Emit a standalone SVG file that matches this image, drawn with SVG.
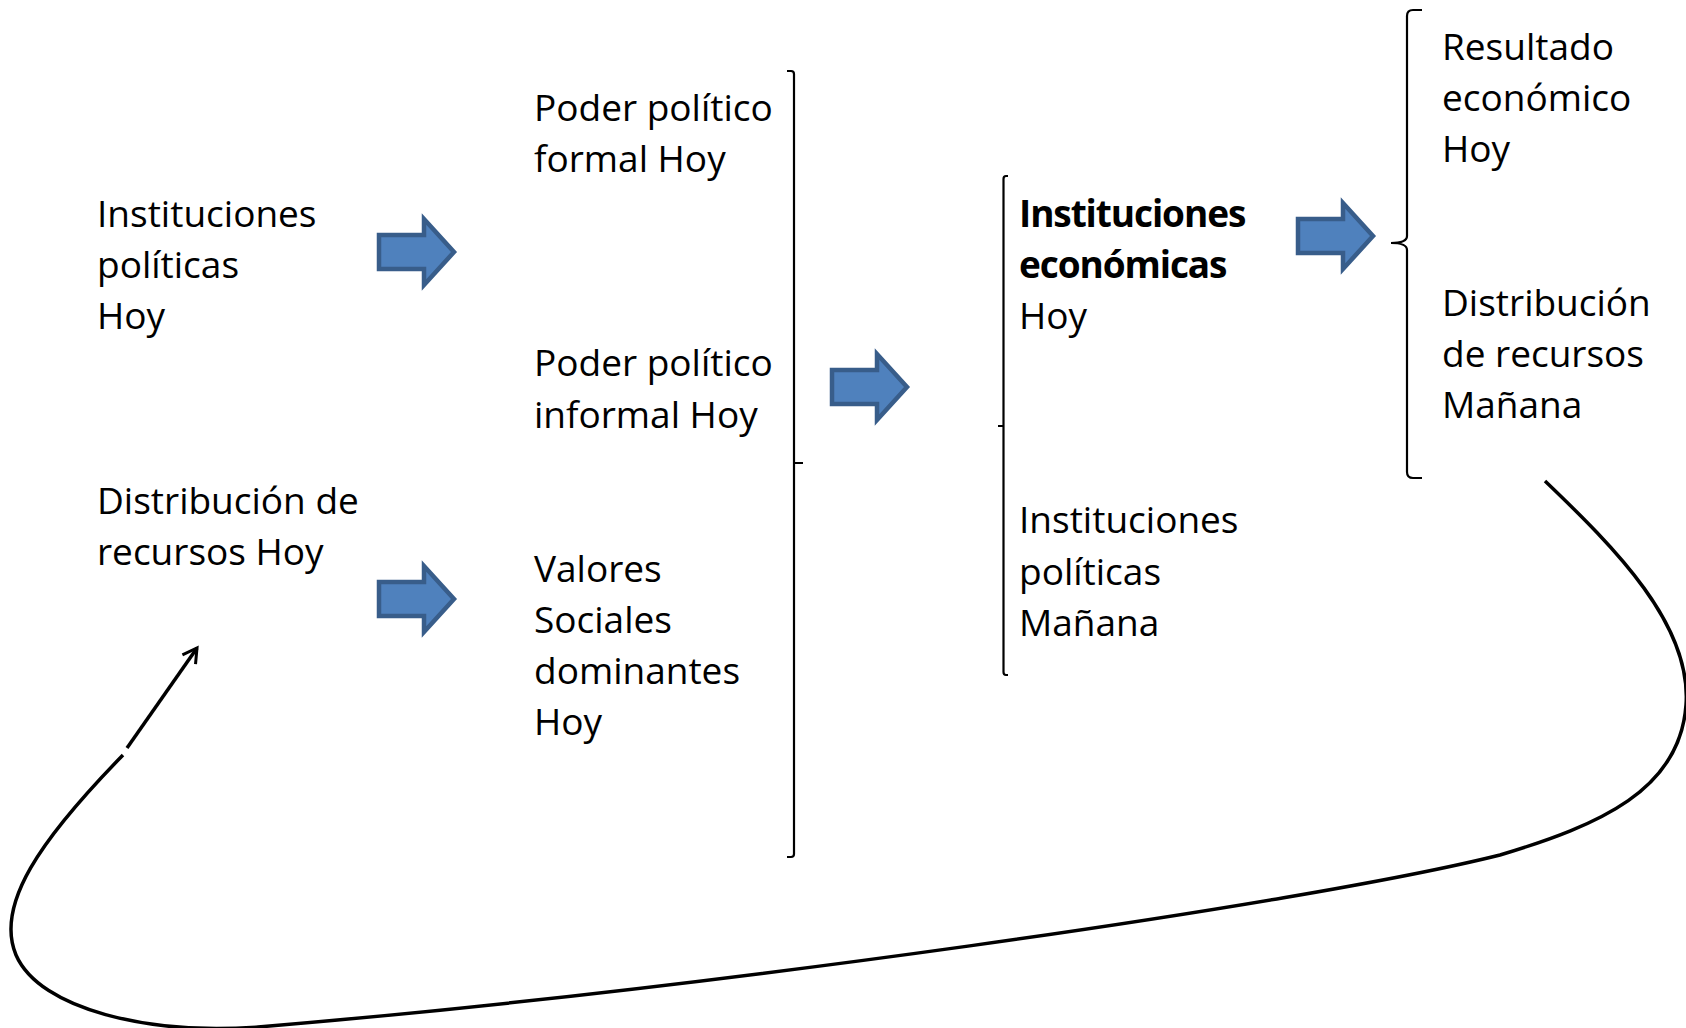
<svg xmlns="http://www.w3.org/2000/svg" width="1686" height="1028" viewBox="0 0 1686 1028">
<style>
  text { font-family: "Open Sans", "Liberation Sans", sans-serif; font-size: 37px; fill: #000; }
  .b { font-weight: bold; letter-spacing: -1.1px; }
  .bracket { fill: none; stroke: #000; stroke-width: 2.2; }
  .conn { fill: none; stroke: #000; stroke-width: 3.5; }
  .blk { fill: #4F81BD; stroke: #385D8A; stroke-width: 4.5; stroke-linejoin: miter; }
</style>
<defs>
  <path id="blockArrow" class="blk" d="M2,-17 H47 V-33 L77,0 L47,33 V17 H2 Z"/>
  <marker id="open" viewBox="0 0 20 20" refX="16" refY="10" markerWidth="20" markerHeight="20" markerUnits="userSpaceOnUse" orient="auto">
    <path d="M2,2 L16,10 L2,18" fill="none" stroke="#000" stroke-width="3"/>
  </marker>
</defs>

<g id="n-instituciones-politicas-hoy">
  <text x="97" y="227">Instituciones</text>
  <text x="97" y="278">políticas</text>
  <text x="97" y="329">Hoy</text>
</g>
<g id="n-distribucion-recursos-hoy">
  <text x="97" y="514">Distribución de</text>
  <text x="97" y="565">recursos Hoy</text>
</g>
<g id="n-poder-formal">
  <text x="534" y="121">Poder político</text>
  <text x="534" y="172">formal Hoy</text>
</g>
<g id="n-poder-informal">
  <text x="534" y="376">Poder político</text>
  <text x="534" y="428">informal Hoy</text>
</g>
<g id="n-valores">
  <text x="534" y="582">Valores</text>
  <text x="534" y="633">Sociales</text>
  <text x="534" y="684">dominantes</text>
  <text x="534" y="735">Hoy</text>
</g>
<g id="n-instituciones-economicas">
  <text class="b" x="1019" y="227">Instituciones</text>
  <text class="b" x="1019" y="278">económicas</text>
  <text x="1019" y="329">Hoy</text>
</g>
<g id="n-instituciones-politicas-manana">
  <text x="1019" y="533">Instituciones</text>
  <text x="1019" y="585">políticas</text>
  <text x="1019" y="636">Mañana</text>
</g>
<g id="n-resultado">
  <text x="1442" y="60">Resultado</text>
  <text x="1442" y="111">económico</text>
  <text x="1442" y="162">Hoy</text>
</g>
<g id="n-distribucion-manana">
  <text x="1442" y="316">Distribución</text>
  <text x="1442" y="367">de recursos</text>
  <text x="1442" y="418">Mañana</text>
</g>

<g id="connectors">
  <use href="#blockArrow" x="377" y="252"/>
  <use href="#blockArrow" x="377" y="599"/>
  <use href="#blockArrow" x="830" y="387"/>
  <use href="#blockArrow" x="1296" y="236"/>

  <path class="bracket" d="M787,71 H791 Q794,71 794,74 V854 Q794,857 791,857 H787 M794,463 H803"/>
  <path class="bracket" d="M1008,176 H1006 Q1003.5,176 1003.5,179 V672 Q1003.5,675 1006,675 H1008 M1003.5,426 H998"/>
  <path class="bracket" d="M1422,10 H1413 Q1407,10 1407,16 V236 Q1407,243 1391,243 Q1407,243 1407,250 V472 Q1407,478 1413,478 H1422"/>

  <path class="conn" d="M1545,481 C1615,548 1692,625 1686,705 C1680,790 1600,825 1500,855 C1300,905 700,990 258,1027 C150,1035 40,1010 16,955 C-5,905 40,840 123,755"/>
  <path class="conn" d="M127,748 L197,648" marker-end="url(#open)"/>
</g>
</svg>
